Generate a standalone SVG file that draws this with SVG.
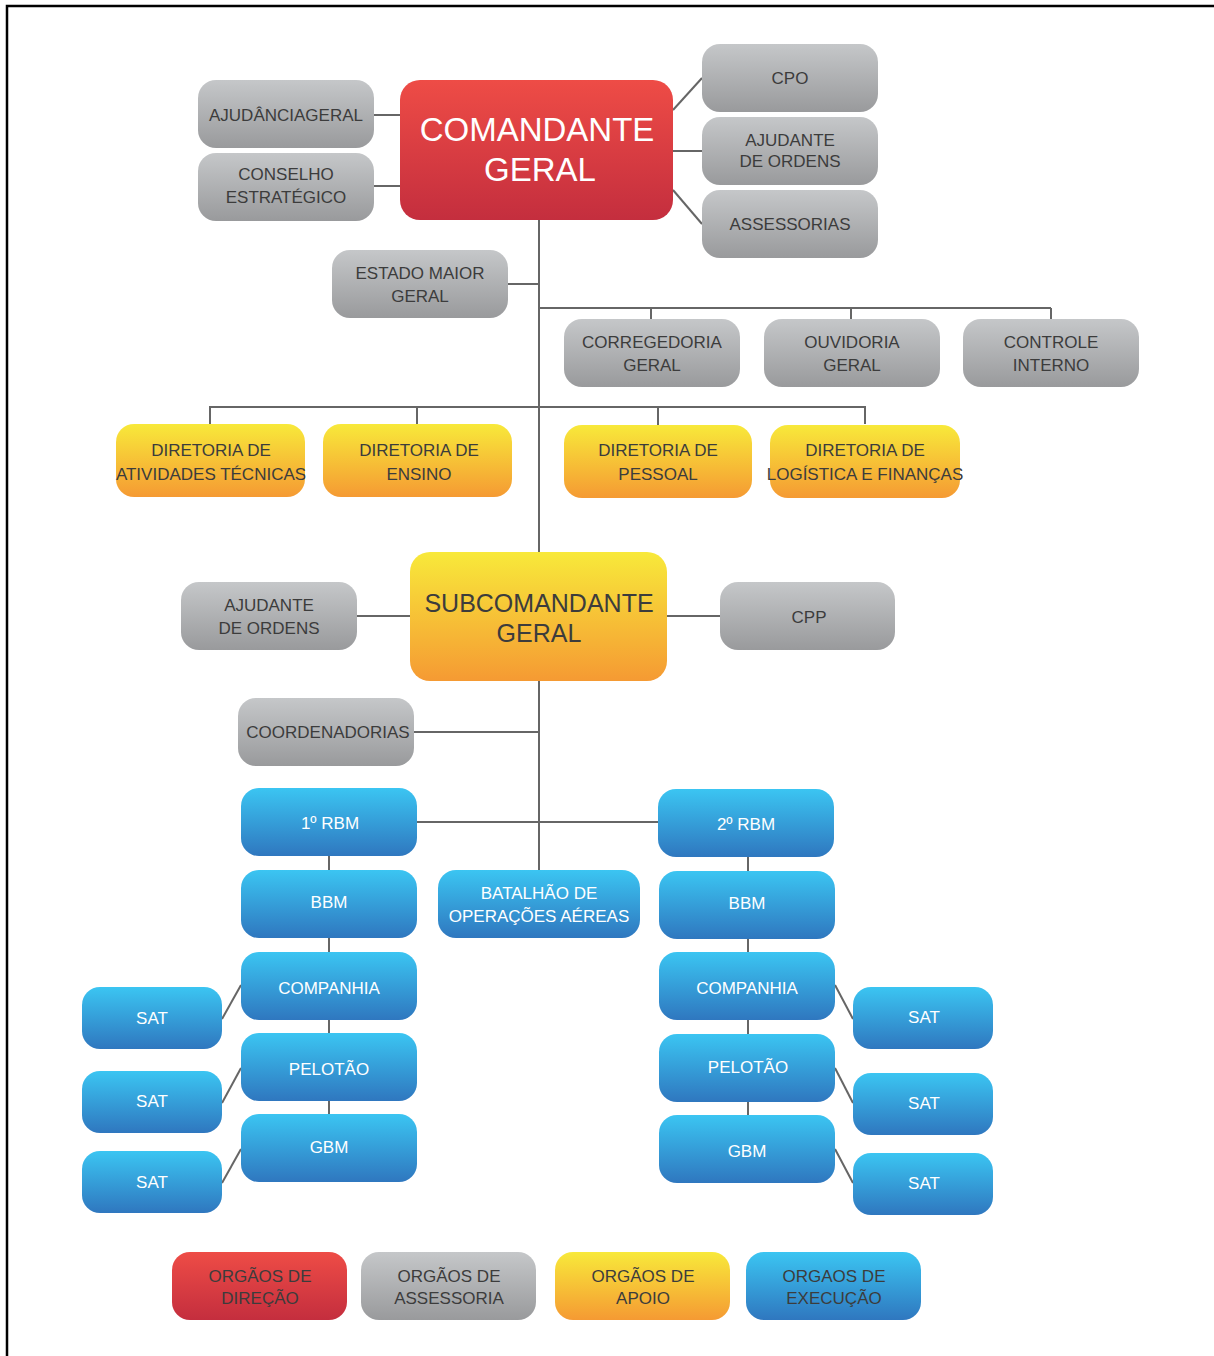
<svg xmlns="http://www.w3.org/2000/svg" width="1214" height="1356" viewBox="0 0 1214 1356">
<defs>
<linearGradient id="gRed" x1="0" y1="0" x2="0" y2="1"><stop offset="0" stop-color="#ee4c46"/><stop offset="1" stop-color="#c42e3e"/></linearGradient>
<linearGradient id="gGray" x1="0" y1="0" x2="0" y2="1"><stop offset="0" stop-color="#c5c7c9"/><stop offset="1" stop-color="#999a9c"/></linearGradient>
<linearGradient id="gYel" x1="0" y1="0" x2="0" y2="1"><stop offset="0" stop-color="#f8e93a"/><stop offset="1" stop-color="#f59a33"/></linearGradient>
<linearGradient id="gBlue" x1="0" y1="0" x2="0" y2="1"><stop offset="0" stop-color="#3bc5f2"/><stop offset="1" stop-color="#2f77bf"/></linearGradient>
</defs>
<style>
.red{fill:url(#gRed)}
.gray{fill:url(#gGray)}
.yel{fill:url(#gYel)}
.blue{fill:url(#gBlue)}
text{font-family:"Liberation Sans",Arial,sans-serif;font-size:17px;text-anchor:middle}
.dk{fill:#3c3c3c}
.wh{fill:#ffffff}
.big{font-size:33px}
.mid{font-size:25px}
#connectors line,#connectors polyline{stroke:#666666;stroke-width:2;fill:none}
</style>
<rect x="0" y="0" width="1214" height="1356" fill="#ffffff"/>
<path d="M7 1356 V6 H1214" fill="none" stroke="#000" stroke-width="2.5"/>

<g id="connectors">
<line x1="374" y1="115" x2="400" y2="115"/>
<line x1="374" y1="186" x2="400" y2="186"/>
<line x1="673" y1="110" x2="702" y2="78"/>
<line x1="673" y1="151" x2="702" y2="151"/>
<line x1="673" y1="190" x2="702" y2="224"/>
<line x1="539" y1="220" x2="539" y2="552"/>
<line x1="508" y1="284" x2="539" y2="284"/>
<polyline points="539,308 1051,308"/>
<line x1="651" y1="308" x2="651" y2="319"/>
<line x1="851" y1="308" x2="851" y2="319"/>
<line x1="1051" y1="308" x2="1051" y2="319"/>
<polyline points="210,424 210,407 865,407 865,424"/>
<line x1="417" y1="407" x2="417" y2="424"/>
<line x1="658" y1="407" x2="658" y2="425"/>
<line x1="357" y1="616" x2="410" y2="616"/>
<line x1="667" y1="616" x2="720" y2="616"/>
<line x1="539" y1="681" x2="539" y2="870"/>
<line x1="414" y1="732" x2="539" y2="732"/>
<line x1="417" y1="822" x2="658" y2="822"/>
<line x1="329" y1="856" x2="329" y2="870"/>
<line x1="329" y1="938" x2="329" y2="952"/>
<line x1="329" y1="1020" x2="329" y2="1033"/>
<line x1="329" y1="1101" x2="329" y2="1114"/>
<line x1="748" y1="857" x2="748" y2="871"/>
<line x1="748" y1="939" x2="748" y2="952"/>
<line x1="748" y1="1020" x2="748" y2="1034"/>
<line x1="748" y1="1102" x2="748" y2="1115"/>
<line x1="222" y1="1019" x2="241" y2="985"/>
<line x1="222" y1="1103" x2="241" y2="1068"/>
<line x1="222" y1="1183" x2="241" y2="1149"/>
<line x1="835" y1="985" x2="853" y2="1019"/>
<line x1="835" y1="1068" x2="853" y2="1103"/>
<line x1="835" y1="1149" x2="853" y2="1183"/>
</g>

<g id="comandante"><rect class="red" x="400" y="80" width="273" height="140" rx="20"/><text class="wh big" x="537" y="141">COMANDANTE</text><text class="wh big" x="540" y="181">GERAL</text></g>
<g id="ajudancia"><rect class="gray" x="198" y="80" width="176" height="68" rx="18"/><text class="dk" x="286" y="121">AJUDÂNCIAGERAL</text></g>
<g id="conselho"><rect class="gray" x="198" y="153" width="176" height="68" rx="18"/><text class="dk" x="286" y="180">CONSELHO</text><text class="dk" x="286" y="203">ESTRATÉGICO</text></g>
<g id="cpo"><rect class="gray" x="702" y="44" width="176" height="68" rx="18"/><text class="dk" x="790" y="84">CPO</text></g>
<g id="ajudante1"><rect class="gray" x="702" y="117" width="176" height="68" rx="18"/><text class="dk" x="790" y="146">AJUDANTE</text><text class="dk" x="790" y="167">DE ORDENS</text></g>
<g id="assessorias"><rect class="gray" x="702" y="190" width="176" height="68" rx="18"/><text class="dk" x="790" y="230">ASSESSORIAS</text></g>
<g id="estadomaior"><rect class="gray" x="332" y="250" width="176" height="68" rx="18"/><text class="dk" x="420" y="279">ESTADO MAIOR</text><text class="dk" x="420" y="302">GERAL</text></g>
<g id="corregedoria"><rect class="gray" x="564" y="319" width="176" height="68" rx="18"/><text class="dk" x="652" y="348">CORREGEDORIA</text><text class="dk" x="652" y="371">GERAL</text></g>
<g id="ouvidoria"><rect class="gray" x="764" y="319" width="176" height="68" rx="18"/><text class="dk" x="852" y="348">OUVIDORIA</text><text class="dk" x="852" y="371">GERAL</text></g>
<g id="controle"><rect class="gray" x="963" y="319" width="176" height="68" rx="18"/><text class="dk" x="1051" y="348">CONTROLE</text><text class="dk" x="1051" y="371">INTERNO</text></g>

<g id="dir-atividades"><rect class="yel" x="116" y="424" width="189" height="73" rx="18"/><text class="dk" x="211" y="456">DIRETORIA DE</text><text class="dk" x="211" y="480">ATIVIDADES TÉCNICAS</text></g>
<g id="dir-ensino"><rect class="yel" x="323" y="424" width="189" height="73" rx="18"/><text class="dk" x="419" y="456">DIRETORIA DE</text><text class="dk" x="419" y="480">ENSINO</text></g>
<g id="dir-pessoal"><rect class="yel" x="564" y="425" width="188" height="73" rx="18"/><text class="dk" x="658" y="456">DIRETORIA DE</text><text class="dk" x="658" y="480">PESSOAL</text></g>
<g id="dir-logistica"><rect class="yel" x="770" y="425" width="190" height="73" rx="18"/><text class="dk" x="865" y="456">DIRETORIA DE</text><text class="dk" x="865" y="480">LOGÍSTICA E FINANÇAS</text></g>

<g id="subcomandante"><rect class="yel" x="410" y="552" width="257" height="129" rx="20"/><text class="dk mid" x="539" y="612">SUBCOMANDANTE</text><text class="dk mid" x="539" y="642">GERAL</text></g>
<g id="ajudante2"><rect class="gray" x="181" y="582" width="176" height="68" rx="18"/><text class="dk" x="269" y="611">AJUDANTE</text><text class="dk" x="269" y="634">DE ORDENS</text></g>
<g id="cpp"><rect class="gray" x="720" y="582" width="175" height="68" rx="18"/><text class="dk" x="809" y="623">CPP</text></g>
<g id="coordenadorias"><rect class="gray" x="238" y="698" width="176" height="68" rx="18"/><text class="dk" x="328" y="738">COORDENADORIAS</text></g>

<g id="rbm1"><rect class="blue" x="241" y="788" width="176" height="68" rx="18"/><text class="wh" x="330" y="829">1º RBM</text></g>
<g id="rbm2"><rect class="blue" x="658" y="789" width="176" height="68" rx="18"/><text class="wh" x="746" y="830">2º RBM</text></g>
<g id="batalhao"><rect class="blue" x="438" y="870" width="202" height="68" rx="18"/><text class="wh" x="539" y="899">BATALHÃO DE</text><text class="wh" x="539" y="922">OPERAÇÕES AÉREAS</text></g>
<g id="bbm1"><rect class="blue" x="241" y="870" width="176" height="68" rx="18"/><text class="wh" x="329" y="908">BBM</text></g>
<g id="bbm2"><rect class="blue" x="659" y="871" width="176" height="68" rx="18"/><text class="wh" x="747" y="909">BBM</text></g>
<g id="companhia1"><rect class="blue" x="241" y="952" width="176" height="68" rx="18"/><text class="wh" x="329" y="994">COMPANHIA</text></g>
<g id="pelotao1"><rect class="blue" x="241" y="1033" width="176" height="68" rx="18"/><text class="wh" x="329" y="1075">PELOTÃO</text></g>
<g id="gbm1"><rect class="blue" x="241" y="1114" width="176" height="68" rx="18"/><text class="wh" x="329" y="1153">GBM</text></g>
<g id="companhia2"><rect class="blue" x="659" y="952" width="176" height="68" rx="18"/><text class="wh" x="747" y="994">COMPANHIA</text></g>
<g id="pelotao2"><rect class="blue" x="659" y="1034" width="176" height="68" rx="18"/><text class="wh" x="748" y="1073">PELOTÃO</text></g>
<g id="gbm2"><rect class="blue" x="659" y="1115" width="176" height="68" rx="18"/><text class="wh" x="747" y="1157">GBM</text></g>
<g id="sat1"><rect class="blue" x="82" y="987" width="140" height="62" rx="18"/><text class="wh" x="152" y="1024">SAT</text></g>
<g id="sat2"><rect class="blue" x="82" y="1071" width="140" height="62" rx="18"/><text class="wh" x="152" y="1107">SAT</text></g>
<g id="sat3"><rect class="blue" x="82" y="1151" width="140" height="62" rx="18"/><text class="wh" x="152" y="1188">SAT</text></g>
<g id="sat4"><rect class="blue" x="853" y="987" width="140" height="62" rx="18"/><text class="wh" x="924" y="1023">SAT</text></g>
<g id="sat5"><rect class="blue" x="853" y="1073" width="140" height="62" rx="18"/><text class="wh" x="924" y="1109">SAT</text></g>
<g id="sat6"><rect class="blue" x="853" y="1153" width="140" height="62" rx="18"/><text class="wh" x="924" y="1189">SAT</text></g>

<g id="legend-direcao"><rect class="red" x="172" y="1252" width="175" height="68" rx="18"/><text class="dk" x="260" y="1282">ORGÃOS DE</text><text class="dk" x="260" y="1304">DIREÇÃO</text></g>
<g id="legend-assessoria"><rect class="gray" x="361" y="1252" width="175" height="68" rx="18"/><text class="dk" x="449" y="1282">ORGÃOS DE</text><text class="dk" x="449" y="1304">ASSESSORIA</text></g>
<g id="legend-apoio"><rect class="yel" x="555" y="1252" width="175" height="68" rx="18"/><text class="dk" x="643" y="1282">ORGÃOS DE</text><text class="dk" x="643" y="1304">APOIO</text></g>
<g id="legend-execucao"><rect class="blue" x="746" y="1252" width="175" height="68" rx="18"/><text class="dk" x="834" y="1282">ORGAOS DE</text><text class="dk" x="834" y="1304">EXECUÇÃO</text></g>
</svg>
